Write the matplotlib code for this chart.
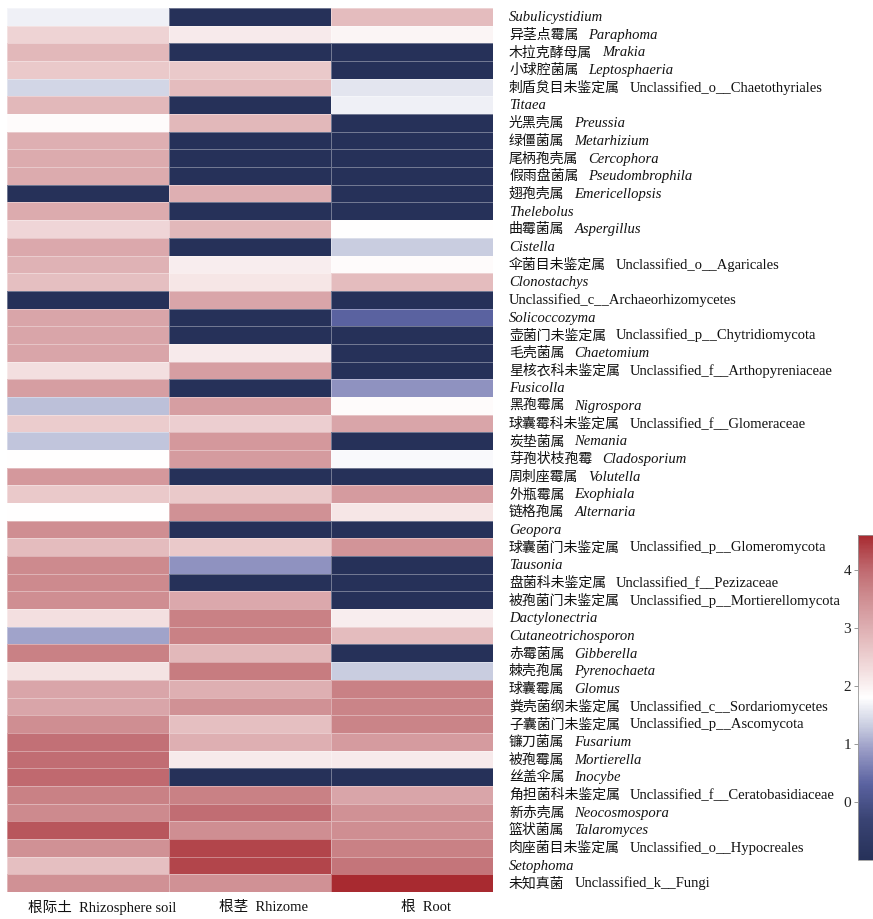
#!/usr/bin/env python3
# coding: utf-8
"""
根际土 / 根茎 / 根 三个部位真菌属相对丰度热图，
右侧为中文属名 + 拉丁学名，右下角为色条。
"""

import numpy as np
import matplotlib
matplotlib.use("Agg")
import matplotlib.pyplot as plt
from matplotlib import cm
from matplotlib.colors import LinearSegmentedColormap, Normalize

# -------- 0. 数据 ----------
GENUS_CN = [
    "", "异茎点霉属", "木拉克酵母属", "小球腔菌属", "刺盾炱目未鉴定属", "",
    "光黑壳属", "绿僵菌属", "尾柄孢壳属", "假雨盘菌属", "翅孢壳属", "",
    "曲霉菌属", "", "伞菌目未鉴定属", "", "", "", "壶菌门未鉴定属", "毛壳菌属",
    "星核衣科未鉴定属", "", "黑孢霉属", "球囊霉科未鉴定属", "炭垫菌属",
    "芽孢状枝孢霉", "周刺座霉属", "外瓶霉属", "链格孢属", "", "球囊菌门未鉴定属",
    "", "盘菌科未鉴定属", "被孢菌门未鉴定属", "", "", "赤霉菌属", "棘壳孢属",
    "球囊霉属", "粪壳菌纲未鉴定属", "子囊菌门未鉴定属", "镰刀菌属", "被孢霉属",
    "丝盖伞属", "角担菌科未鉴定属", "新赤壳属", "篮状菌属", "肉座菌目未鉴定属",
    "", "未知真菌",
]
GENUS_LATIN = [
    "Subulicystidium", "Paraphoma", "Mrakia", "Leptosphaeria",
    "Unclassified_o__Chaetothyriales", "Titaea", "Preussia", "Metarhizium",
    "Cercophora", "Pseudombrophila", "Emericellopsis", "Thelebolus",
    "Aspergillus", "Cistella", "Unclassified_o__Agaricales", "Clonostachys",
    "Unclassified_c__Archaeorhizomycetes", "Solicoccozyma",
    "Unclassified_p__Chytridiomycota", "Chaetomium",
    "Unclassified_f__Arthopyreniaceae", "Fusicolla", "Nigrospora",
    "Unclassified_f__Glomeraceae", "Nemania", "Cladosporium", "Volutella",
    "Exophiala", "Alternaria", "Geopora", "Unclassified_p__Glomeromycota",
    "Tausonia", "Unclassified_f__Pezizaceae",
    "Unclassified_p__Mortierellomycota", "Dactylonectria",
    "Cutaneotrichosporon", "Gibberella", "Pyrenochaeta", "Glomus",
    "Unclassified_c__Sordariomycetes", "Unclassified_p__Ascomycota",
    "Fusarium", "Mortierella", "Inocybe",
    "Unclassified_f__Ceratobasidiaceae", "Neocosmospora", "Talaromyces",
    "Unclassified_o__Hypocreales", "Setophoma", "Unclassified_k__Fungi",
]
SAMPLES = ["根际土  Rhizosphere soil", "根茎  Rhizome", "根  Root"]

SOIL = [
    1.65, 2.45, 2.85, 2.6, 1.4, 2.85, 1.85, 3.0, 3.05, 3.05,
    -1.0, 3.05, 2.4, 3.1, 2.95, 2.75, -1.0, 3.15, 3.15, 3.15,
    2.25, 3.25, 1.2, 2.55, 1.25, 1.8, 3.35, 2.6, 1.8, 3.5,
    2.8, 3.55, 3.55, 3.5, 2.25, 0.95, 3.7, 2.2, 3.15, 3.15,
    3.5, 3.9, 3.95, 4.0, 3.7, 3.55, 4.2, 3.45, 2.75, 3.45,
]
RHIZOME = [
    -1.0, 2.1, -1.0, 2.6, 2.8, -1.0, 2.85, -1.0, -1.0, -1.0,
    3.0, -1.0, 2.85, -1.0, 2.05, 2.15, 3.15, -1.0, -1.0, 2.1,
    3.25, -1.0, 3.25, 2.5, 3.35, 3.3, -1.0, 2.6, 3.45, -1.0,
    2.6, 0.8, -1.0, 3.1, 3.7, 3.7, 2.85, 3.75, 3.0, 3.45,
    2.75, 3.0, 2.1, -1.0, 3.7, 3.95, 3.5, 4.35, 4.35, 3.45,
]
ROOT = [
    2.8, 1.95, -1.0, -1.0, 1.55, 1.65, -1.0, -1.0, -1.0, -1.0,
    -1.0, -1.0, 1.8, 1.3, 1.85, 2.8, -1.0, 0.3, -1.0, -1.0,
    -1.0, 0.8, 1.85, 3.15, -1.0, 1.75, -1.0, 3.3, 2.15, -1.0,
    3.4, -1.0, -1.0, -1.0, 2.05, 2.8, -1.0, 1.3, 3.7, 3.65,
    3.65, 3.3, 2.1, -1.0, 3.15, 3.45, 3.5, 3.7, 3.85, 4.6,
]
CBAR_TICKS = [0, 1, 2, 3, 4]
VMIN, VMAX = -1.0, 4.6

# -------- 1. 字体 ----------
SERIF = ["Liberation Serif", "Noto Sans CJK SC"]
CJK = ["Noto Sans CJK SC", "DejaVu Sans"]
FS = 10


def make_cmap():
    """蓝 - 白 - 红 渐变，白色落在 1.8 附近"""
    stops = [(-1.0, "#263159"), (-0.3, "#3a4474"), (0.3, "#5a62a0"),
             (0.9, "#9a9cc6"), (1.3, "#c8cce0"), (1.8, "#ffffff"),
             (2.3, "#f2dcdd"), (2.8, "#e4bcbe"), (3.2, "#d8a2a6"),
             (3.6, "#cc888c"), (4.0, "#c06a70"), (4.3, "#b44c52"),
             (4.6, "#a82a30")]
    return LinearSegmentedColormap.from_list(
        "bwr_soft", [((v - VMIN) / (VMAX - VMIN), c) for v, c in stops])


def main():
    W, H = 873, 919
    fig = plt.figure(figsize=(W / 100, H / 100), dpi=100)
    ax = fig.add_axes([7 / W, 1 - 892 / H, 486 / W, 884 / H])

    data = np.column_stack([SOIL, RHIZOME, ROOT])
    n = data.shape[0]
    cmap = make_cmap()
    norm = Normalize(vmin=VMIN, vmax=VMAX)

    ax.pcolormesh(data, cmap=cmap, norm=norm,
                  edgecolors=(1, 1, 1, 0.35), linewidth=0.6)
    ax.set_xlim(0, 3)
    ax.set_ylim(n, 0)
    ax.set_xticks([]); ax.set_yticks([])
    for s in ax.spines.values():
        s.set_visible(False)

    # 右侧属名：中文 + 学名（属名斜体）
    fig.canvas.draw()
    renderer = fig.canvas.get_renderer()
    inv = ax.transAxes.inverted()
    x0 = 1 + 16 / 486
    for i, (cn, la) in enumerate(zip(GENUS_CN, GENUS_LATIN)):
        y = i + 0.5 + 0.24
        style = "normal" if la.startswith("Unclassified") else "italic"
        x = x0
        if cn:
            t = ax.text(x0, y, cn, transform=ax.get_yaxis_transform(),
                        family=CJK, fontsize=FS, va="baseline", ha="left",
                        color="#111111")
            bb = t.get_window_extent(renderer)
            x = inv.transform((bb.x1 + 10, 0))[0]
        ax.text(x, y, la, transform=ax.get_yaxis_transform(),
                family=["Liberation Serif"], fontsize=FS * 1.05, style=style,
                va="baseline", ha="left", color="#111111")

    # 底部样品名
    for j, lab in enumerate(SAMPLES):
        ax.annotate(lab, xy=(j + 0.5, 0), xycoords=("data", "axes fraction"),
                    xytext=(10, -11), textcoords="offset points",
                    ha="center", va="center", family=SERIF, fontsize=10.5,
                    color="#111111")

    # 色条
    cax = fig.add_axes([858 / W, 1 - 860 / H, 16 / W, 325 / H])
    mappable = cm.ScalarMappable(norm=norm, cmap=cmap)
    mappable.set_array([])
    cb = fig.colorbar(mappable, cax=cax, ticks=CBAR_TICKS)
    cb.ax.yaxis.set_ticks_position("left")
    cb.ax.tick_params(labelsize=11, length=3, width=0.6, color="#888888", pad=2)
    for t in cb.ax.get_yticklabels():
        t.set_fontfamily("Liberation Serif")
        t.set_color("#222222")
    cb.outline.set_edgecolor("#999999")
    cb.outline.set_linewidth(0.6)

    fig.savefig("out.png", dpi=100)


if __name__ == "__main__":
    main()
